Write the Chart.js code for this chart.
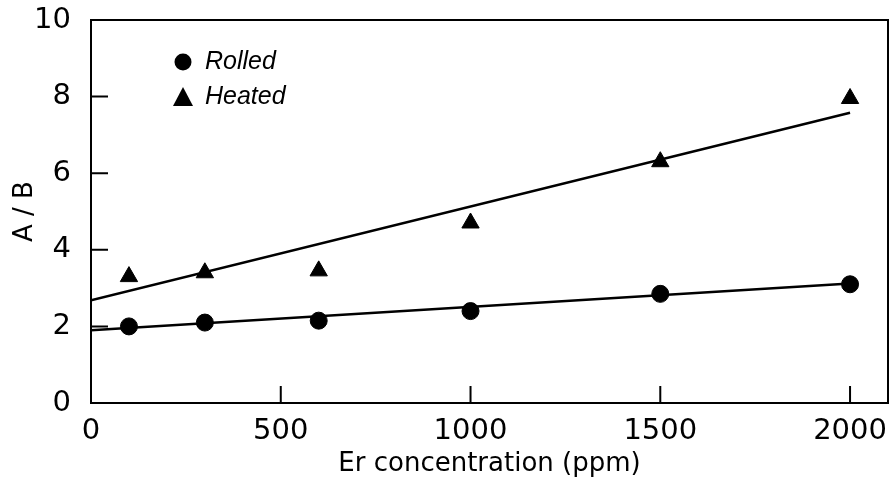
<!DOCTYPE html>
<html>
<head>
<meta charset="utf-8">
<script src="https://cdn.jsdelivr.net/npm/chart.js@4"></script>
<style>
  html, body { margin: 0; padding: 0; background: #fff; overflow: hidden; }
  canvas { display: block; }
</style>
</head>
<body>
<canvas id="chart-1" width="893" height="480"></canvas>
<script>
// data
var erPpm = [100, 300, 600, 1000, 1500, 2000];
var rolled = [2.0, 2.1, 2.15, 2.4, 2.85, 3.1];
var heated = [3.3, 3.4, 3.45, 4.7, 6.3, 7.95];

// straight fit lines (end points)
var fitX = [0, 2000];
var rolledFit = [1.9, 3.12];
var heatedFit = [2.68, 7.58];

var xTicks = [0, 500, 1000, 1500, 2000];
var yTicks = [0, 2, 4, 6, 8, 10];

function pts(xs, ys) {
  return xs.map(function (x, i) { return { x: x, y: ys[i] }; });
}

// frame + inward ticks + inset legend
var framePlugin = {
  id: "frame",
  afterDraw: function (chart) {
    var ctx = chart.ctx;
    var a = chart.chartArea;
    var xs = chart.scales.x, ys = chart.scales.y;
    ctx.save();
    ctx.strokeStyle = "#000";
    ctx.lineWidth = 2;
    ctx.strokeRect(a.left, a.top, a.right - a.left, a.bottom - a.top);
    ctx.beginPath();
    xTicks.forEach(function (v) {
      if (v === 0) return;
      var px = xs.getPixelForValue(v);
      ctx.moveTo(px, a.bottom);
      ctx.lineTo(px, a.bottom - 17);
    });
    yTicks.forEach(function (v) {
      if (v === 0 || v === 10) return;
      var py = ys.getPixelForValue(v);
      ctx.moveTo(a.left, py);
      ctx.lineTo(a.left + 17, py);
    });
    ctx.stroke();

    // legend
    ctx.fillStyle = "#000";
    ctx.beginPath();
    ctx.arc(183, 62, 8.5, 0, Math.PI * 2);
    ctx.fill();
    ctx.beginPath();
    ctx.moveTo(183, 87);
    ctx.lineTo(193, 106);
    ctx.lineTo(173, 106);
    ctx.closePath();
    ctx.fill();
    ctx.font = "italic 25px 'Liberation Sans'";
    ctx.textBaseline = "middle";
    ctx.fillText("Rolled", 205, 62);
    ctx.fillText("Heated", 205, 97);
    ctx.restore();
  }
};

var tickFont = { family: "'DejaVu Sans'", size: 29 };

var chartOne = document.getElementById("chart-1").getContext("2d");
var myChart = new Chart(chartOne, {
  type: "scatter",
  data: {
    datasets: [
      {
        label: "Rolled",
        data: pts(erPpm, rolled),
        pointStyle: "circle",
        pointRadius: 8.5,
        backgroundColor: "#000",
        borderColor: "#000",
        showLine: false,
      },
      {
        label: "Heated",
        data: pts(erPpm, heated),
        pointStyle: "triangle",
        pointRadius: 10,
        backgroundColor: "#000",
        borderColor: "#000",
        showLine: false,
      },
      {
        label: "Rolled fit",
        data: pts(fitX, rolledFit),
        showLine: true,
        pointRadius: 0,
        borderColor: "#000",
        borderWidth: 2.5,
      },
      {
        label: "Heated fit",
        data: pts(fitX, heatedFit),
        showLine: true,
        pointRadius: 0,
        borderColor: "#000",
        borderWidth: 2.5,
      },
    ],
  },
  plugins: [framePlugin],
  options: {
    responsive: false,
    animation: false,
    layout: { autoPadding: false, padding: { left: 0, right: 5, top: 20, bottom: 0 } },
    plugins: {
      legend: { display: false },
      tooltip: { enabled: false },
    },
    scales: {
      x: {
        type: "linear",
        min: 0,
        max: 2100,
        afterBuildTicks: function (scale) {
          scale.ticks = xTicks.map(function (v) { return { value: v }; });
        },
        afterFit: function (scale) {
          scale.height = 77;
          scale.paddingLeft = 0;
          scale.paddingRight = 0;
        },
        grid: { display: false },
        border: { display: false },
        ticks: {
          color: "#000", font: tickFont, padding: 3, maxRotation: 0,
          callback: function (v) { return String(v); },
        },
        title: {
          display: true,
          text: "Er concentration (ppm)",
          color: "#000",
          font: { family: "'DejaVu Sans'", size: 26 },
          padding: { top: 0, bottom: 0 },
        },
      },
      y: {
        min: 0,
        max: 10,
        afterBuildTicks: function (scale) {
          scale.ticks = yTicks.map(function (v) { return { value: v }; });
        },
        afterFit: function (scale) {
          scale.width = 91;
          scale.paddingTop = 0;
          scale.paddingBottom = 0;
        },
        grid: { display: false },
        border: { display: false },
        ticks: { color: "#000", font: tickFont, padding: 12 },
        title: {
          display: true,
          text: "A / B",
          color: "#000",
          font: { family: "'DejaVu Sans'", size: 26 },
          padding: { top: 10, bottom: 0 },
        },
      },
    },
  },
});
</script>
</body>
</html>
